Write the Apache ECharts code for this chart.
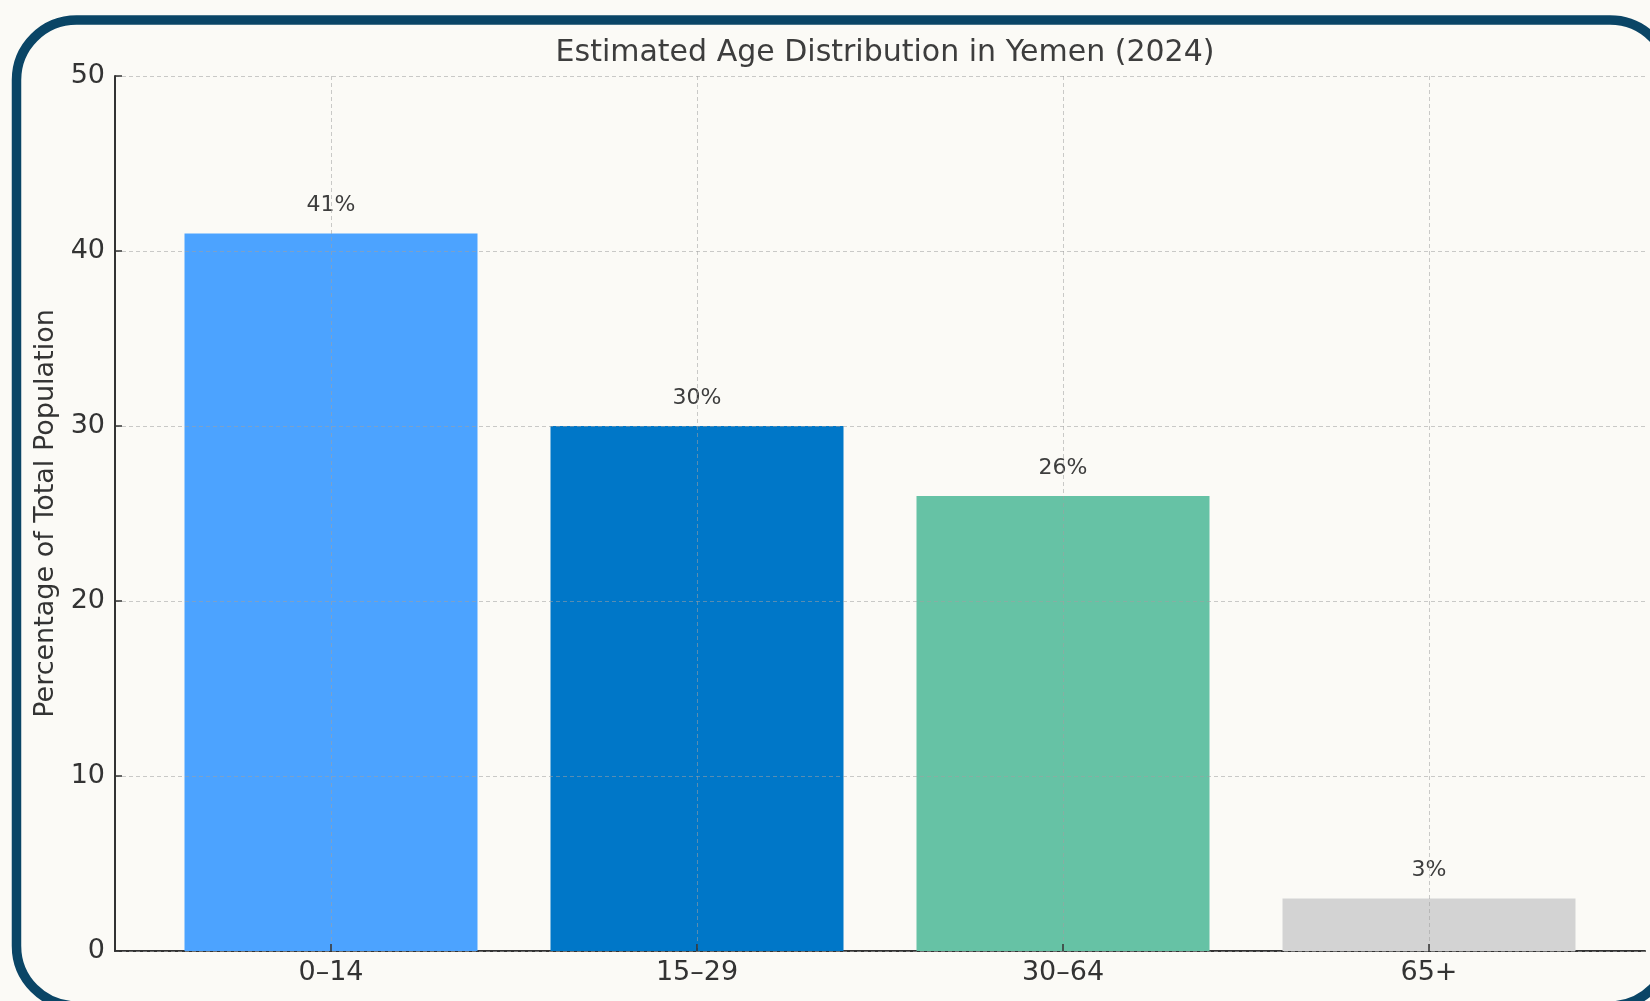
<!DOCTYPE html>
<html>
<head>
<meta charset="utf-8">
<script src="https://cdn.jsdelivr.net/npm/echarts@6/dist/echarts.min.js"></script>
<style>
html,body{margin:0;padding:0;background:#fbfaf6;}
#chart{width:1650px;height:1001px;}
</style>
</head>
<body>
<div id="chart"></div>
<script>
const categories = ['0–14', '15–29', '30–64', '65+'];
const values = [41, 30, 26, 3];
const barColors = ['#4ca3ff', '#0077c8', '#66c2a5', '#d3d3d3'];
const yTicks = [0, 10, 20, 30, 40, 50];

const chart = echarts.init(document.getElementById('chart'), null, {renderer: 'canvas'});
const font = 'DejaVu Sans';
const gridColor = 'rgba(160,160,160,0.55)';

const option = {
  backgroundColor: '#fbfaf6',
  animation: false,
  title: {
    text: 'Estimated Age Distribution in Yemen (2024)',
    left: 880,
    textAlign: 'center',
    top: 33,
    textStyle: {fontFamily: font, fontSize: 30, fontWeight: 'normal', color: '#3d3d3d'}
  },
  graphic: [{
    type: 'rect',
    shape: {x: 16.5, y: 20, width: 1653.5, height: 986, r: 60},
    style: {fill: 'none', stroke: '#0a4566', lineWidth: 9.5},
    z: 100
  }],
  grid: [
    {left: 115, right: 5, top: 76, bottom: 50},
    {left: 331, right: 221, top: 76, bottom: 50}
  ],
  xAxis: [
    {
      type: 'value', gridIndex: 0, min: 0, max: 1,
      axisLine: {show: true, lineStyle: {color: '#333', width: 2}},
      axisTick: {show: false}, axisLabel: {show: false}, splitLine: {show: false}
    },
    {
      type: 'category', gridIndex: 1, data: categories, boundaryGap: false, z: 3,
      axisLine: {show: false},
      axisTick: {show: true, inside: true, length: 7, lineStyle: {color: '#333', width: 1.5}},
      axisLabel: {fontFamily: font, fontSize: 27, color: '#333', margin: 8},
      splitLine: {show: true, lineStyle: {color: gridColor, type: [4, 3], width: 1}}
    }
  ],
  yAxis: [
    {
      type: 'value', gridIndex: 0, min: yTicks[0], max: yTicks[yTicks.length - 1], interval: 10, z: 3,
      name: 'Percentage of Total Population',
      nameLocation: 'middle', nameGap: 52, nameRotate: 90,
      nameTextStyle: {fontFamily: font, fontSize: 27, color: '#333'},
      axisLine: {show: true, lineStyle: {color: '#333', width: 2}},
      axisTick: {show: true, inside: true, length: 7, lineStyle: {color: '#333', width: 1.5}},
      axisLabel: {fontFamily: font, fontSize: 27, color: '#333', margin: 10},
      splitLine: {show: true, lineStyle: {color: gridColor, type: [4, 3], width: 1}}
    },
    {
      type: 'value', gridIndex: 1, min: 0, max: 50, show: false
    }
  ],
  series: [{
    type: 'bar',
    xAxisIndex: 1, yAxisIndex: 1,
    barWidth: 293,
    clip: false,
    data: values.map((v, i) => ({value: v, itemStyle: {color: barColors[i]}})),
    label: {
      show: true, position: 'top', distance: 17,
      formatter: '{c}%',
      fontFamily: font, fontSize: 22, color: '#3d3d3d'
    }
  }]
};
chart.setOption(option);
</script>
</body>
</html>
